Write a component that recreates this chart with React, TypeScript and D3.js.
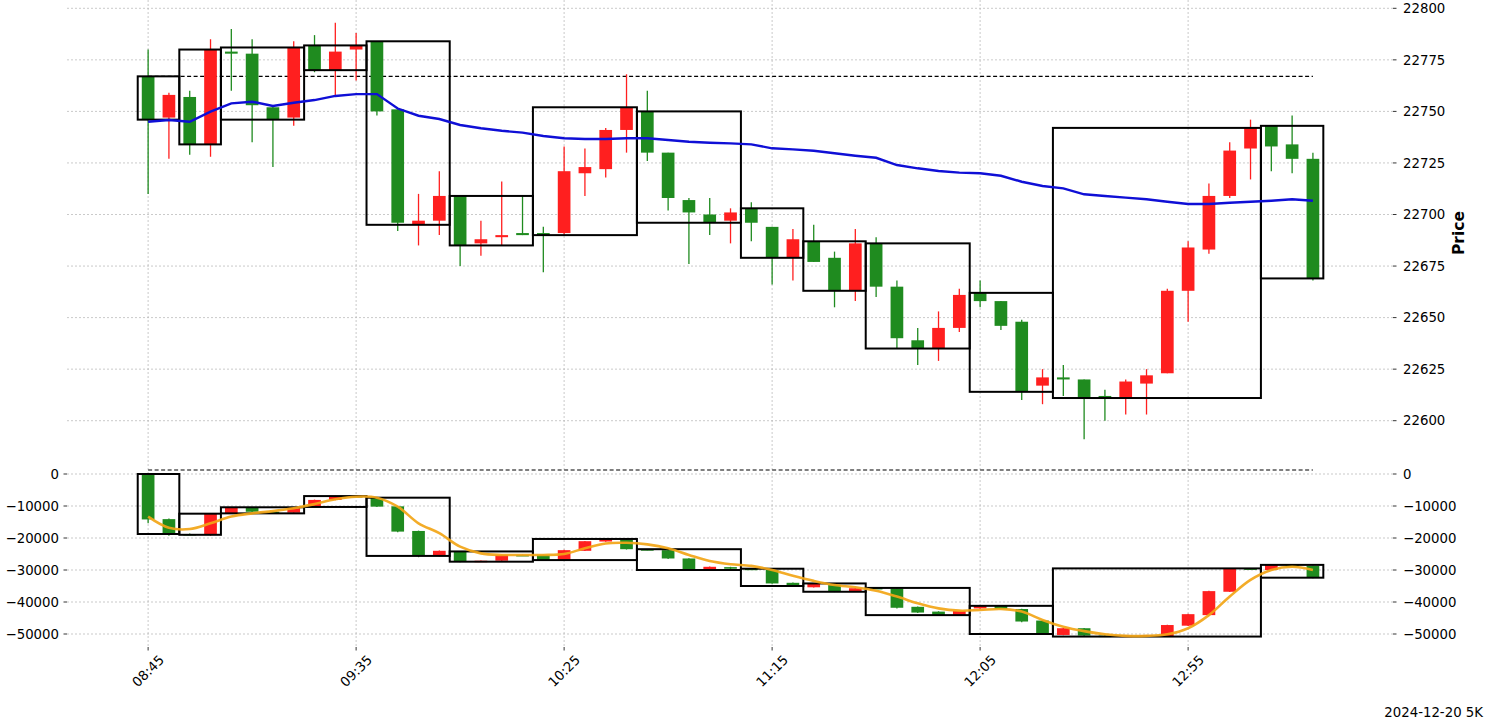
import * as d3 from 'd3';
import React from 'react';

// 5K candles of the day session, [open, high, low, close]
const PRICE_OHLC: number[][] = [
  [22767, 22780, 22710, 22746], [22747, 22759, 22727, 22758], [22757, 22760, 22729, 22734],
  [22734, 22785, 22728, 22780], [22779, 22790, 22760, 22778], [22778, 22785, 22735, 22753],
  [22752, 22753, 22723, 22746], [22747, 22784, 22743, 22781], [22782, 22787, 22769, 22770],
  [22770, 22793, 22758, 22779], [22780, 22788, 22765, 22782], [22784, 22784, 22748, 22750],
  [22751, 22751, 22692, 22696], [22695, 22710, 22685, 22697], [22697, 22721, 22690, 22709],
  [22709, 22709, 22675, 22685], [22686, 22697, 22680, 22688], [22689, 22716, 22685, 22690],
  [22691, 22709, 22690, 22690], [22691, 22694, 22672, 22690], [22691, 22733, 22690, 22721],
  [22720, 22732, 22709, 22723], [22722, 22742, 22718, 22741], [22741, 22768, 22730, 22752],
  [22750, 22760, 22726, 22730], [22730, 22730, 22702, 22708], [22707, 22708, 22676, 22701],
  [22700, 22708, 22690, 22696], [22697, 22703, 22686, 22701], [22703, 22706, 22687, 22696],
  [22694, 22694, 22666, 22679], [22679, 22693, 22668, 22688], [22687, 22695, 22677, 22677],
  [22679, 22682, 22655, 22663], [22663, 22693, 22658, 22686], [22686, 22689, 22660, 22665],
  [22665, 22668, 22635, 22640], [22639, 22645, 22627, 22635], [22635, 22653, 22629, 22645],
  [22645, 22664, 22643, 22661], [22662, 22668, 22655, 22658], [22658, 22658, 22644, 22646],
  [22648, 22649, 22610, 22614], [22617, 22625, 22608, 22621], [22621, 22627, 22612, 22620],
  [22620, 22620, 22591, 22611], [22612, 22615, 22600, 22611], [22611, 22620, 22603, 22619],
  [22618, 22625, 22603, 22622], [22623, 22664, 22623, 22663], [22663, 22687, 22648, 22684],
  [22683, 22715, 22681, 22709], [22709, 22735, 22708, 22731], [22732, 22746, 22717, 22742],
  [22743, 22743, 22721, 22733], [22734, 22748, 22720, 22727], [22727, 22730, 22668, 22669],
];

// moving average drawn over the price candles
const PRICE_MA: number[] = [
  22745, 22745.8, 22745, 22749.9, 22753.9, 22754.7, 22752.6, 22754.2, 22755.5, 22757.5,
  22758.4, 22758.4, 22751.4, 22747.9, 22746.3, 22743.4, 22741.8, 22740.6, 22739.7, 22738.1,
  22737, 22736.6, 22736.6, 22737, 22737, 22736.1, 22735.3, 22734.8, 22734.5, 22734,
  22732.1, 22731.6, 22730.9, 22729.7, 22728.5, 22727.5, 22724, 22722.4, 22721.1, 22720.3,
  22720, 22718.8, 22715.9, 22713.8, 22712.7, 22709.8, 22709, 22708.2, 22707.4, 22706.2,
  22705.1, 22705.1, 22705.7, 22706.2, 22706.7, 22707.4, 22706.7,
];

// lower panel candles, [open, high, low, close]
const FLOW_OHLC: number[][] = [
  [0, 0, -15400, -14200], [-14100, -13900, -19300, -18750], [-18750, -18600, -19100, -19000],
  [-19000, -12300, -19300, -12400], [-12300, -10300, -12400, -10400], [-10400, -10300, -11900, -11800],
  [-11800, -11700, -12200, -12100], [-12100, -10400, -12200, -10500], [-10300, -8000, -10400, -8100],
  [-8100, -6800, -8200, -6900], [-6900, -6800, -7200, -7100], [-7400, -7300, -10300, -10200],
  [-10100, -10000, -18200, -18000], [-17800, -17700, -26000, -25600], [-25600, -23900, -25800, -24000],
  [-24200, -24100, -27600, -27400], [-27400, -27000, -27500, -27100], [-27100, -25200, -27200, -25300],
  [-25300, -25200, -25600, -25500], [-25300, -25200, -27100, -26900], [-26900, -23700, -27000, -23800],
  [-24000, -20900, -24100, -21000], [-21100, -20200, -21200, -20300], [-20500, -20400, -23600, -23500],
  [-23500, -23400, -23800, -23700], [-23800, -23700, -26600, -26400], [-26400, -26300, -30200, -30000],
  [-30000, -28900, -30100, -29000], [-29100, -29000, -29700, -29600], [-29600, -29500, -29900, -29800],
  [-30000, -29900, -34300, -34200], [-34000, -33900, -35100, -35000], [-35400, -34100, -35500, -34200],
  [-34700, -34600, -36900, -36800], [-36800, -35600, -36900, -35700], [-35600, -35500, -35900, -35800],
  [-35800, -35700, -42000, -41800], [-41500, -41400, -43400, -43300], [-43000, -42900, -44200, -44100],
  [-44100, -42700, -44200, -42800], [-42000, -41100, -42100, -41200], [-41200, -41100, -42300, -42200],
  [-42200, -42100, -46300, -46100], [-45800, -45700, -50100, -50000], [-50300, -48100, -50400, -48200],
  [-48200, -48100, -50600, -50500], [-50500, -50400, -50700, -50600], [-50600, -50400, -50700, -50500],
  [-50500, -50300, -50600, -50400], [-50800, -47100, -50900, -47200], [-47400, -43700, -47500, -43800],
  [-44100, -36500, -44200, -36600], [-36800, -29400, -36900, -29500], [-29500, -29400, -29900, -29800],
  [-30000, -28300, -30100, -28400], [-28400, -28300, -28700, -28600], [-28700, -28600, -32600, -32400],
];

// smoothed line of the lower panel
const FLOW_MA: number[] = [
  -13300, -16800, -17200, -15400, -13300, -12300, -11600, -10700, -9400, -7900,
  -7100, -7400, -10200, -15400, -18500, -22700, -24800, -25300, -25300, -25300,
  -25000, -23200, -21700, -21500, -22000, -23200, -25300, -27200, -28200, -28700,
  -30000, -31800, -33400, -34700, -35400, -36500, -38300, -40400, -42000, -42700,
  -42500, -42200, -43000, -45600, -47700, -49100, -50100, -50600, -50600, -50100,
  -48200, -44100, -38300, -33100, -30000, -29000, -30000,
];

// first candle index of every box
const GROUP_STARTS = [0, 2, 4, 8, 11, 15, 19, 24, 29, 32, 35, 40, 44, 54];

const X_TICK_IDX = [0, 10, 20, 30, 40, 50];
const X_TICK_LABELS = ['08:45', '09:35', '10:25', '11:15', '12:05', '12:55'];
const PRICE_TICKS = [22600, 22625, 22650, 22675, 22700, 22725, 22750, 22775, 22800];
const FLOW_TICKS = [0, -10000, -20000, -30000, -40000, -50000];
const FLOW_REF = 1250;
const FOOTER = '2024-12-20 5K';

const W = 1486;
const H = 721;
const LEFT = 67;
const RIGHT = 1393;
const MAIN = { top: 0, bottom: 458 };
const LOW = { top: 460, bottom: 647 };
const FONT = 'DejaVu Sans, sans-serif';
const UP = '#ff1f1f';
const DOWN = '#1f8b1f';
const GRID = '#b3b3b3';

const fmt = (v: number) => (v < 0 ? '\u2212' + Math.abs(v) : String(v));

const x = d3.scaleLinear().domain([-3.9, 59.85]).range([LEFT, RIGHT]);
const yP = d3.scaleLinear().domain([22600, 22800]).range([420.7, 8.3]);
const yF = d3.scaleLinear().domain([-50000, 0]).range([634, 474]);

const groups = GROUP_STARTS.map((s, k) => {
  const e = k + 1 < GROUP_STARTS.length ? GROUP_STARTS[k + 1] - 1 : PRICE_OHLC.length - 1;
  return [s, e];
});

const bodyW = x(0.61) - x(0);

function Candles({ data, y }: { data: number[][]; y: d3.ScaleLinear<number, number> }) {
  return (
    <g>
      {data.map(([o, h, l, c], i) => {
        const cx = x(i);
        const col = c >= o ? UP : DOWN;
        const top = y(Math.max(o, c));
        const bh = Math.max(1.5, y(Math.min(o, c)) - top);
        return (
          <g key={i}>
            <line x1={cx} x2={cx} y1={y(h)} y2={y(l)} stroke={col} strokeWidth={1.3} />
            <rect x={cx - bodyW / 2} y={top} width={bodyW} height={bh} fill={col} />
          </g>
        );
      })}
    </g>
  );
}

function Boxes({ data, y }: { data: number[][]; y: d3.ScaleLinear<number, number> }) {
  return (
    <g>
      {groups.map(([s, e], k) => {
        const part = data.slice(s, e + 1);
        const hi = d3.max(part, (d) => Math.max(d[0], d[3])) as number;
        const lo = d3.min(part, (d) => Math.min(d[0], d[3])) as number;
        return (
          <rect key={k} x={x(s - 0.5)} y={y(hi)} width={x(e + 0.5) - x(s - 0.5)} height={y(lo) - y(hi)}
            fill="none" stroke="#000" strokeWidth={2} />
        );
      })}
    </g>
  );
}

export default function App() {
  const last = PRICE_OHLC.length - 1;
  const blueLine = d3.line<number>().x((_, i) => x(i)).y((d) => yP(d))(PRICE_MA) as string;
  const orangeLine = d3.line<number>().x((_, i) => x(i)).y((d) => yF(d))
    .curve(d3.curveCatmullRom.alpha(0.5))(FLOW_MA) as string;

  return (
    <svg width={W} height={H} style={{ position: 'absolute', left: 0, top: 0, background: '#fff' }}
      fontFamily={FONT}>
      {/* grid */}
      {X_TICK_IDX.map((t) => (
        <g key={'vx' + t}>
          <line x1={x(t)} x2={x(t)} y1={MAIN.top} y2={MAIN.bottom} stroke={GRID} strokeWidth={0.7} strokeDasharray="2,2" />
          <line x1={x(t)} x2={x(t)} y1={LOW.top} y2={LOW.bottom} stroke={GRID} strokeWidth={0.7} strokeDasharray="2,2" />
        </g>
      ))}
      {PRICE_TICKS.map((t) => (
        <line key={'gp' + t} x1={LEFT} x2={RIGHT} y1={yP(t)} y2={yP(t)} stroke={GRID} strokeWidth={0.7} strokeDasharray="2,2" />
      ))}
      {FLOW_TICKS.map((t) => (
        <line key={'gf' + t} x1={LEFT} x2={RIGHT} y1={yF(t)} y2={yF(t)} stroke={GRID} strokeWidth={0.7} strokeDasharray="2,2" />
      ))}

      {/* reference lines */}
      <line x1={x(0)} x2={x(last)} y1={yP(PRICE_OHLC[0][0])} y2={yP(PRICE_OHLC[0][0])} stroke="#000" strokeWidth={1.2} strokeDasharray="4,2.5" />
      <line x1={x(0)} x2={x(last)} y1={yF(FLOW_REF)} y2={yF(FLOW_REF)} stroke="#000" strokeWidth={1.2} strokeDasharray="4,2.5" />

      <Candles data={PRICE_OHLC} y={yP} />
      <Candles data={FLOW_OHLC} y={yF} />
      <Boxes data={PRICE_OHLC} y={yP} />
      <Boxes data={FLOW_OHLC} y={yF} />

      <path d={blueLine} fill="none" stroke="#0f0fd6" strokeWidth={2.4} />
      <path d={orangeLine} fill="none" stroke="#f2a516" strokeWidth={2.6} strokeOpacity={0.92} />

      {/* price axis, right */}
      {PRICE_TICKS.map((t) => (
        <g key={'tp' + t}>
          <line x1={RIGHT} x2={RIGHT + 3.5} y1={yP(t)} y2={yP(t)} stroke="#000" strokeWidth={0.8} />
          <text x={RIGHT + 10} y={yP(t)} dy="0.35em" fontSize={13.3}>{t}</text>
        </g>
      ))}
      <text transform={`translate(1459,${(MAIN.top + MAIN.bottom) / 2 + 4}) rotate(-90)`} textAnchor="middle"
        dy="0.35em" fontSize={15.5} fontWeight="bold">Price</text>

      {/* lower axis, both sides */}
      {FLOW_TICKS.map((t) => (
        <g key={'tf' + t}>
          <line x1={LEFT - 3.5} x2={LEFT} y1={yF(t)} y2={yF(t)} stroke="#000" strokeWidth={0.8} />
          <text x={LEFT - 8} y={yF(t)} dy="0.35em" fontSize={13.3} textAnchor="end">{fmt(t)}</text>
          <line x1={RIGHT} x2={RIGHT + 3.5} y1={yF(t)} y2={yF(t)} stroke="#000" strokeWidth={0.8} />
          <text x={RIGHT + 10} y={yF(t)} dy="0.35em" fontSize={13.3}>{fmt(t)}</text>
        </g>
      ))}

      {/* time axis */}
      {X_TICK_IDX.map((t, k) => (
        <g key={'tx' + t}>
          <line x1={x(t)} x2={x(t)} y1={LOW.bottom} y2={LOW.bottom + 3.5} stroke="#000" strokeWidth={0.8} />
          <text transform={`translate(${x(t)},${LOW.bottom + 24}) rotate(-45)`} textAnchor="middle" dy="0.35em"
            fontSize={13.3}>{X_TICK_LABELS[k]}</text>
        </g>
      ))}

      <text x={1483} y={717} textAnchor="end" fontSize={13.3}>{FOOTER}</text>
    </svg>
  );
}
